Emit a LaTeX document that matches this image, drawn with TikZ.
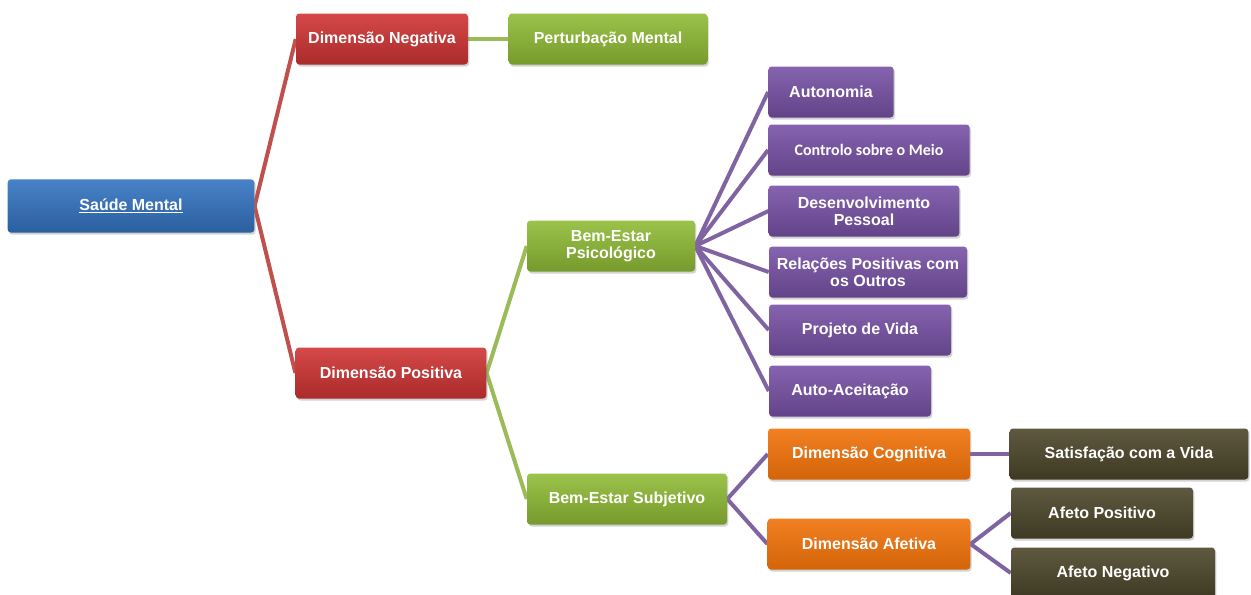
\documentclass[tikz,border=0pt]{standalone}
\usepackage{fontspec}
\setmainfont{Liberation Sans}
\newfontfamily\calibfont{Carlito}
\usetikzlibrary{shadows,backgrounds}

\definecolor{smblue}{RGB}{52,116,194}
\definecolor{smred}{RGB}{208,52,52}
\definecolor{smgreen}{RGB}{144,188,54}
\definecolor{smpurple}{RGB}{120,82,166}
\definecolor{smorange}{RGB}{240,114,10}
\definecolor{smolive}{RGB}{76,70,42}
\definecolor{linered}{RGB}{192,80,77}
\definecolor{linegreen}{RGB}{155,187,89}
\definecolor{linepurple}{RGB}{128,100,162}

\begin{document}
\begin{tikzpicture}
  [x=0.75pt,y=-0.75pt,
   every node/.style={rectangle,rounded corners=2.5pt,minimum height=38.25pt,
     inner sep=2pt,align=center,text=white,
     font=\fontsize{12}{12.5}\selectfont\bfseries,
     drop shadow={opacity=0.35,shadow xshift=1pt,shadow yshift=-1.5pt}},
   link/.style={line width=3pt}]
  \tikzstyle{bluebox} = [top color=smblue!90!white,middle color=smblue,bottom color=smblue!82!black]
  \tikzstyle{redbox} = [top color=smred!90!white,middle color=smred,bottom color=smred!82!black]
  \tikzstyle{greenbox} = [top color=smgreen!90!white,middle color=smgreen,bottom color=smgreen!82!black]
  \tikzstyle{purplebox} = [top color=smpurple!90!white,middle color=smpurple,bottom color=smpurple!82!black]
  \tikzstyle{orangebox} = [top color=smorange!90!white,middle color=smorange,bottom color=smorange!88!black]
  \tikzstyle{olivebox} = [top color=smolive!90!white,middle color=smolive,bottom color=smolive!82!black]
  \useasboundingbox (0,0) rectangle (1251,594);

  \node[bluebox,minimum width=185pt,minimum height=40pt] (sm) at (131,206) {\underline{Saúde Mental}};
  \node[redbox,minimum width=129pt] (neg) at (382,39) {Dimensão Negativa};
  \node[greenbox,minimum width=149pt] (pert) at (608,39) {Perturbação Mental};
  \node[redbox,minimum width=143pt] (pos) at (391,373) {Dimensão Positiva};
  \node[greenbox,minimum width=126pt] (bep) at (611,246) {Bem-Estar\\Psicológico};
  \node[greenbox,minimum width=150pt] (bes) at (627,499) {Bem-Estar Subjetivo};
  \node[purplebox,minimum width=94pt] (auto) at (831,92) {Autonomia};
  \node[purplebox,minimum width=151pt,font=\fontsize{12}{13}\selectfont\calibfont\bfseries] (ctrl) at (869,150) {Controlo sobre o Meio};
  \node[purplebox,minimum width=143pt] (desv) at (864,211) {Desenvolvimento\\Pessoal};
  \node[purplebox,minimum width=148.5pt] (rel) at (868,272) {Relações Positivas com\\os Outros};
  \node[purplebox,minimum width=136.5pt] (proj) at (860,330) {Projeto de Vida};
  \node[purplebox,minimum width=121.5pt] (acei) at (850,391) {Auto-Aceitação};
  \node[orangebox,minimum width=151.5pt] (cog) at (869,454) {Dimensão Cognitiva};
  \node[orangebox,minimum width=152pt] (afe) at (869,544) {Dimensão Afetiva};
  \node[olivebox,minimum width=179pt] (sat) at (1129,454) {Satisfação com a Vida};
  \node[olivebox,minimum width=136.5pt] (apos) at (1102,513) {Afeto Positivo};
  \node[olivebox,minimum width=153pt] (aneg) at (1113,573) {Afeto Negativo};

\begin{scope}[on background layer]
\foreach \source/\dest/\col in {sm/neg/linered,sm/pos/linered,neg/pert/linegreen,
    pos/bep/linegreen,pos/bes/linegreen,
    bep/auto/linepurple,bep/ctrl/linepurple,bep/desv/linepurple,bep/rel/linepurple,
    bep/proj/linepurple,bep/acei/linepurple,bes/cog/linepurple,bes/afe/linepurple,
    cog/sat/linepurple,afe/apos/linepurple,afe/aneg/linepurple}
   \draw[link,\col] (\source.east) -- (\dest.west);
\end{scope}

\end{tikzpicture}
\end{document}
